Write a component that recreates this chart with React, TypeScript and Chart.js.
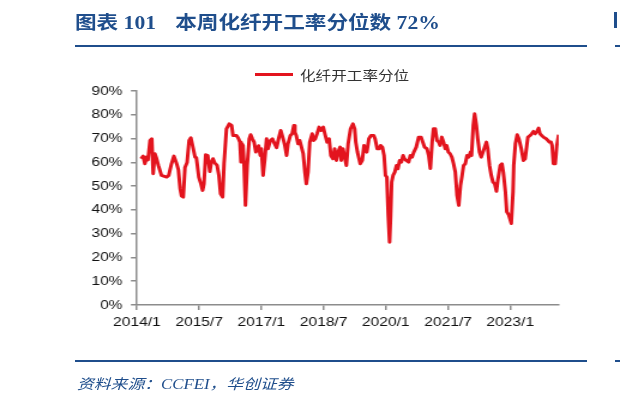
import React, { useEffect, useRef } from "react";
import { Chart, registerables } from "chart.js";

Chart.register(...registerables);

// months elapsed since 2014/1
const months: number[] = [
  1.2, 1.8, 2.3, 2.8, 3.2, 3.8, 4.3, 4.7, 5.2, 5.6, 6.2, 7.1, 8.6, 9.2, 10.0, 10.7, 11.5, 12.0, 12.5, 12.9,
  13.4, 13.9, 14.5, 15.1, 15.6, 16.3, 16.8, 17.2, 17.9, 18.5, 19.0, 19.4, 19.9, 20.5, 21.1, 21.5, 22.0, 22.5, 23.2, 23.7,
  24.2, 24.8, 25.2, 25.9, 26.7, 27.4, 27.8, 28.8, 29.3, 29.8, 30.1, 30.4, 30.7, 31.0, 31.4, 31.9, 32.5, 32.9, 33.4, 33.9,
  34.4, 35.2, 35.7, 36.0, 36.5, 37.0, 37.5, 37.9, 38.6, 39.2, 39.6, 40.4, 41.1, 41.6, 42.3, 42.8, 43.3, 43.7, 44.4, 44.9,
  45.4, 45.7, 46.1, 46.6, 47.1, 47.6, 48.1, 48.6, 49.0, 49.5, 50.0, 50.7, 51.1, 51.6, 52.1, 52.7, 53.3, 53.9, 54.5, 55.0,
  55.6, 56.1, 56.7, 57.2, 57.7, 58.2, 58.8, 59.1, 59.6, 60.0, 60.6, 61.1, 61.8, 62.5, 63.0, 63.3, 63.8, 64.6, 65.2, 65.7,
  66.1, 66.5, 67.1, 67.7, 68.5, 68.9, 69.5, 70.1, 70.5, 71.0, 71.5, 71.9, 72.3, 72.7, 73.1, 73.4, 73.7, 74.1, 74.6, 75.1,
  75.5, 76.0, 76.5, 77.0, 77.4, 77.9, 78.6, 79.1, 79.6, 80.1, 80.8, 81.5, 82.2, 82.7, 83.2, 83.9, 84.4, 84.9, 85.4, 85.8,
  86.3, 86.8, 87.3, 87.7, 88.2, 88.7, 89.2, 89.6, 90.1, 90.6, 91.1, 91.6, 92.1, 92.6, 93.1, 93.6, 94.0, 94.5, 95.0, 95.5,
  96.0, 96.5, 96.8, 97.3, 97.7, 98.2, 98.6, 99.1, 99.6, 100.1, 100.6, 101.1, 101.5, 102.0, 102.5, 103.0, 103.5, 104.0, 104.4, 105.1,
  105.6, 106.0, 106.6, 107.0, 107.6, 108.3, 108.8, 109.0, 109.5, 110.0, 110.5, 111.2, 111.8, 112.3, 112.8, 113.1, 113.8, 114.2, 114.7, 115.2,
  115.7, 116.2, 116.6, 117.1, 117.6, 118.4, 118.9, 119.3, 119.8, 120.1, 120.5, 121.0, 121.5, 122.0,
];

// 化纤开工率分位 (%)
const values: number[] = [
  61.5, 62.6, 59.4, 62.2, 61.0, 69.2, 69.9, 55.2, 63.6, 62.0, 58.7, 54.5, 53.8, 54.5, 59.4, 62.6, 59.4, 56.8, 48.9, 45.8,
  45.4, 57.8, 59.9, 69.2, 70.3, 65.7, 62.2, 62.0, 53.8, 51.0, 48.2, 51.0, 63.2, 62.8, 56.1, 59.8, 61.5, 59.8, 58.7, 54.6,
  46.8, 45.4, 59.4, 74.1, 76.2, 75.5, 71.3, 71.3, 70.2, 68.5, 60.1, 67.8, 67.0, 58.7, 41.9, 58.7, 69.9, 71.6, 69.9, 68.5,
  64.3, 67.0, 62.9, 65.7, 54.5, 61.5, 69.9, 65.7, 69.2, 69.9, 68.5, 66.2, 70.6, 73.4, 69.9, 67.1, 62.9, 67.8, 71.3, 72.0,
  75.5, 72.7, 71.3, 67.8, 69.2, 66.4, 63.6, 55.9, 51.0, 55.9, 68.5, 72.0, 69.2, 69.9, 72.0, 74.8, 73.4, 74.8, 71.3, 68.5,
  69.9, 62.9, 61.5, 65.7, 60.8, 64.3, 66.4, 60.8, 65.7, 62.9, 58.7, 67.8, 74.1, 76.2, 74.1, 68.5, 64.3, 59.4, 60.8, 67.1,
  65.0, 64.3, 69.9, 71.3, 71.3, 69.9, 65.7, 65.7, 67.1, 66.4, 62.9, 54.5, 53.8, 37.8, 26.4, 37.8, 51.7, 54.5, 55.9, 58.7,
  57.3, 60.8, 60.1, 62.9, 61.5, 60.8, 60.1, 62.9, 62.2, 64.3, 66.4, 70.6, 70.6, 68.5, 66.4, 65.7, 62.9, 57.4, 68.5, 74.1,
  74.1, 69.2, 68.5, 67.1, 70.6, 68.5, 65.7, 67.1, 64.3, 63.6, 62.2, 59.4, 55.9, 46.1, 41.9, 50.3, 53.8, 58.7, 59.4, 62.9,
  62.2, 64.3, 62.9, 75.5, 80.4, 75.5, 69.9, 64.3, 62.2, 64.3, 66.4, 68.5, 65.7, 58.7, 54.5, 51.7, 51.0, 47.8, 52.4, 58.7,
  59.4, 55.9, 47.6, 39.2, 37.8, 34.3, 47.6, 58.7, 67.8, 71.6, 69.9, 65.7, 60.8, 61.5, 67.1, 70.6, 71.3, 72.0, 73.0, 72.0,
  73.0, 74.4, 72.0, 71.3, 70.6, 69.9, 69.2, 68.5, 68.5, 67.1, 59.4, 59.4, 67.1, 71.6,
];

const xTickMonths: number[] = [0, 18, 36, 54, 72, 90, 108];
const yTicks: number[] = [0, 10, 20, 30, 40, 50, 60, 70, 80, 90];
const seriesName = "化纤开工率分位";
const titleLeft = "图表 101";
const titleRight = "本周化纤开工率分位数 72%";
const sourceText = "资料来源：CCFEI，华创证券";

const SX = 1.2; // horizontal stretch of the original picture
const W = 620;
const H = 401;
const IW = Math.round(W / SX);
const BLUE = "#1f4e8c";
const RED = "#e3141e";
const AXIS = "#8c8c8c";

export default function App() {
  const ref = useRef<HTMLCanvasElement | null>(null);

  useEffect(() => {
    document.body.style.margin = "0";
    const canvas = ref.current!;
    const chart = new Chart(canvas, {
      type: "line",
      data: {
        datasets: [
          {
            label: seriesName,
            data: months.map((m, i) => ({ x: m, y: values[i] })),
            borderColor: RED,
            backgroundColor: RED,
            borderWidth: 3,
            pointRadius: 0,
            tension: 0,
            borderJoinStyle: "round",
          },
        ],
      },
      options: {
        responsive: false,
        animation: false,
        devicePixelRatio: 1,
        layout: { padding: { left: 0, right: IW - 559 / SX, top: 91, bottom: 66 } },
        plugins: { legend: { display: false }, tooltip: { enabled: false } },
        scales: {
          x: {
            type: "linear",
            min: 0,
            max: 122,
            afterBuildTicks: (s: any) => {
              s.ticks = xTickMonths.map((v) => ({ value: v }));
            },
            afterFit: (s: any) => {
              s.height = 30;
            },
            ticks: {
              autoSkip: false,
              maxRotation: 0,
              padding: 5,
              color: "#111",
              font: { family: "'Liberation Sans', Arial, sans-serif", size: 13 },
              callback: (v: any) => `${2014 + Math.floor(v / 12)}/${(v % 12) + 1}`,
            },
            grid: { display: true, drawOnChartArea: false, drawTicks: true, tickLength: 5, color: AXIS, lineWidth: 1.5 },
            border: { display: true, color: AXIS, width: 1.5 },
          },
          y: {
            min: 0,
            max: 90,
            afterBuildTicks: (s: any) => {
              s.ticks = yTicks.map((v) => ({ value: v }));
            },
            afterFit: (s: any) => {
              s.width = 137 / SX;
            },
            ticks: {
              padding: 7,
              color: "#111",
              font: { family: "'Liberation Sans', Arial, sans-serif", size: 13 },
              callback: (v: any) => `${v}%`,
            },
            grid: { display: true, drawOnChartArea: false, drawTicks: true, tickLength: 5, color: AXIS, lineWidth: 1.5 },
            border: { display: true, color: AXIS, width: 1.5 },
          },
        },
      },
    });
    return () => chart.destroy();
  }, []);

  const stretch: React.CSSProperties = {
    position: "absolute",
    transform: `scaleX(${SX})`,
    transformOrigin: "left top",
    whiteSpace: "nowrap",
  };

  return (
    <div style={{ position: "fixed", left: 0, top: 0, width: W, height: H, background: "#fff", overflow: "hidden" }}>
      <canvas ref={ref} width={IW} height={H} style={{ position: "absolute", left: 0, top: 0, width: W, height: H }} />
      <div
        style={{
          ...stretch,
          left: 75,
          top: 8,
          fontFamily: "'Liberation Serif', 'Noto Sans CJK SC', serif",
          fontWeight: "bold",
          fontSize: 18,
          color: BLUE,
        }}
      >
        {titleLeft}
        <span style={{ marginLeft: 16 }}>{titleRight}</span>
      </div>
      <div style={{ position: "absolute", left: 614, top: 12, width: 3, height: 16, background: BLUE }} />
      <div style={{ position: "absolute", left: 75, top: 45, width: 512, height: 2, background: BLUE }} />
      <div style={{ position: "absolute", left: 615, top: 45, width: 5, height: 2, background: BLUE }} />
      <div style={{ position: "absolute", left: 255, top: 73, width: 38, height: 3, background: RED }} />
      <div
        style={{
          ...stretch,
          left: 300,
          top: 65,
          fontFamily: "'Noto Sans CJK SC', sans-serif",
          fontSize: 13,
          color: "#333",
        }}
      >
        {seriesName}
      </div>
      <div style={{ position: "absolute", left: 75, top: 360, width: 512, height: 2, background: BLUE }} />
      <div style={{ position: "absolute", left: 615, top: 360, width: 5, height: 2, background: BLUE }} />
      <div
        style={{
          ...stretch,
          left: 77,
          top: 373,
          fontFamily: "'Liberation Serif', 'Noto Sans CJK SC', serif",
          fontStyle: "italic",
          fontSize: 14,
          color: BLUE,
        }}
      >
        {sourceText}
      </div>
    </div>
  );
}
